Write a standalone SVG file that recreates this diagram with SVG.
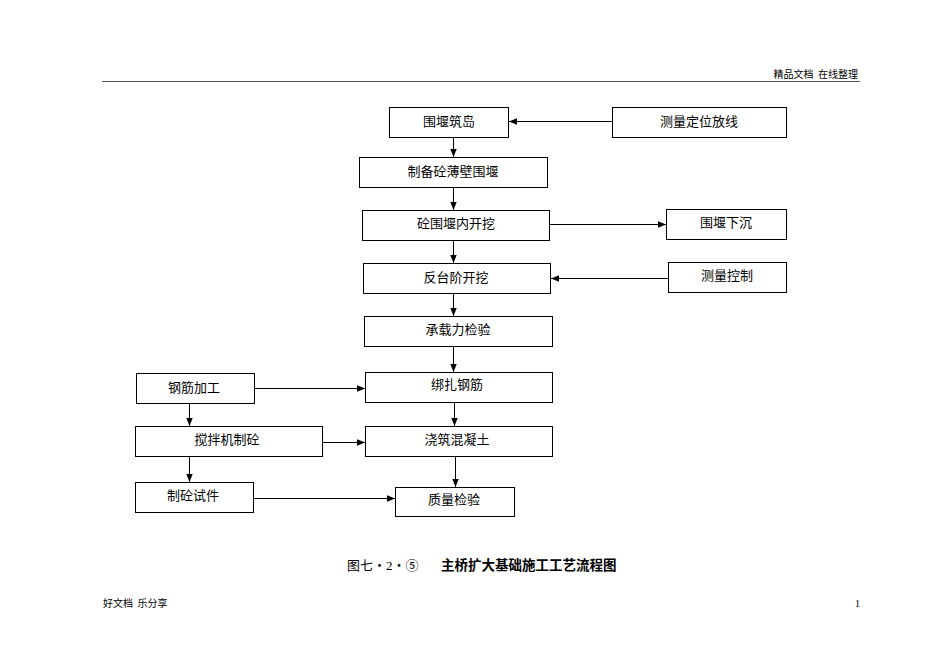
<svg xmlns="http://www.w3.org/2000/svg" width="945" height="669" viewBox="0 0 945 669">
<style>
.b{fill:#fff;stroke:#000;stroke-width:1}
.t{font-family:"Noto Sans CJK SC","Noto Sans",sans-serif;font-size:13px;fill:#000;text-anchor:middle;dominant-baseline:central}
.c{stroke:#000;stroke-width:1;fill:none;marker-end:url(#a)}
.s{font-family:"Noto Sans CJK SC",sans-serif;font-size:10px;fill:#000}
</style>
<defs>
<marker id="a" viewBox="0 0 10 10" refX="10" refY="5" markerWidth="8" markerHeight="8" markerUnits="userSpaceOnUse" orient="auto">
<path d="M0,1 L10,5 L0,9 z" fill="#000"/>
</marker>
</defs>
<rect x="0" y="0" width="945" height="669" fill="#fff"/>
<g id="header">
<text class="s" x="858" y="78" text-anchor="end" xml:space="preserve">精品文档  在线整理</text>
<line x1="102" y1="81.5" x2="860" y2="81.5" stroke="#555" stroke-width="1"/>
</g>
<g id="n1"><rect class="b" x="389.5" y="107.5" width="119" height="30"/><text class="t" x="449" y="120">围堰筑岛</text></g>
<g id="n2"><rect class="b" x="612.5" y="107.5" width="174" height="30"/><text class="t" x="699" y="120">测量定位放线</text></g>
<g id="n3"><rect class="b" x="359.5" y="157.5" width="188" height="30"/><text class="t" x="453" y="170">制备砼薄壁围堰</text></g>
<g id="n4"><rect class="b" x="362.5" y="210.5" width="187" height="30"/><text class="t" x="456" y="222">砼围堰内开挖</text></g>
<g id="n5"><rect class="b" x="666.5" y="209.5" width="120" height="30"/><text class="t" x="726" y="221">围堰下沉</text></g>
<g id="n6"><rect class="b" x="363.5" y="263.5" width="187" height="30"/><text class="t" x="456" y="276">反台阶开挖</text></g>
<g id="n7"><rect class="b" x="668.5" y="262.5" width="118" height="30"/><text class="t" x="727" y="274">测量控制</text></g>
<g id="n8"><rect class="b" x="364.5" y="316.5" width="188" height="30"/><text class="t" x="458" y="328">承载力检验</text></g>
<g id="n9"><rect class="b" x="136.5" y="373.5" width="118" height="30"/><text class="t" x="194" y="386">钢筋加工</text></g>
<g id="n10"><rect class="b" x="365.5" y="372.5" width="187" height="30"/><text class="t" x="457" y="383">绑扎钢筋</text></g>
<g id="n11"><rect class="b" x="135.5" y="426.5" width="187" height="30"/><text class="t" x="227" y="438">搅拌机制砼</text></g>
<g id="n12"><rect class="b" x="365.5" y="426.5" width="187" height="30"/><text class="t" x="457" y="438">浇筑混凝土</text></g>
<g id="n13"><rect class="b" x="135.5" y="482.5" width="118" height="30"/><text class="t" x="193" y="494">制砼试件</text></g>
<g id="n14"><rect class="b" x="395.5" y="487.5" width="119" height="29"/><text class="t" x="454" y="498">质量检验</text></g>
<g id="connectors">
<line class="c" x1="612" y1="121.5" x2="509" y2="121.5"/>
<line class="c" x1="453.5" y1="138" x2="453.5" y2="157"/>
<line class="c" x1="453.5" y1="188" x2="453.5" y2="210"/>
<line class="c" x1="550" y1="224.5" x2="666" y2="224.5"/>
<line class="c" x1="453.5" y1="241" x2="453.5" y2="263"/>
<line class="c" x1="668" y1="278.5" x2="551" y2="278.5"/>
<line class="c" x1="453.5" y1="294" x2="453.5" y2="316"/>
<line class="c" x1="453.5" y1="347" x2="453.5" y2="372"/>
<line class="c" x1="255" y1="388.5" x2="365" y2="388.5"/>
<line class="c" x1="189.5" y1="404" x2="189.5" y2="426"/>
<line class="c" x1="454.5" y1="403" x2="454.5" y2="426"/>
<line class="c" x1="323" y1="442.5" x2="365" y2="442.5"/>
<line class="c" x1="189.5" y1="457" x2="189.5" y2="482"/>
<line class="c" x1="455.5" y1="457" x2="455.5" y2="487"/>
<line class="c" x1="254" y1="498.5" x2="395" y2="498.5"/>
</g>
<g id="caption">
<text x="347" y="570" font-family="Noto Sans CJK SC,sans-serif" font-size="13" fill="#000">图七・<tspan font-family="Liberation Serif,serif">2</tspan>・⑤</text>
<text x="441" y="570" font-family="Noto Sans CJK SC,sans-serif" font-size="13.5" font-weight="bold" fill="#000">主桥扩大基础施工工艺流程图</text>
</g>
<g id="footer">
<text class="s" x="103" y="607" xml:space="preserve">好文档  乐分享</text>
<text x="855" y="607" font-family="Liberation Serif,serif" font-size="10" fill="#000">1</text>
</g>
</svg>
